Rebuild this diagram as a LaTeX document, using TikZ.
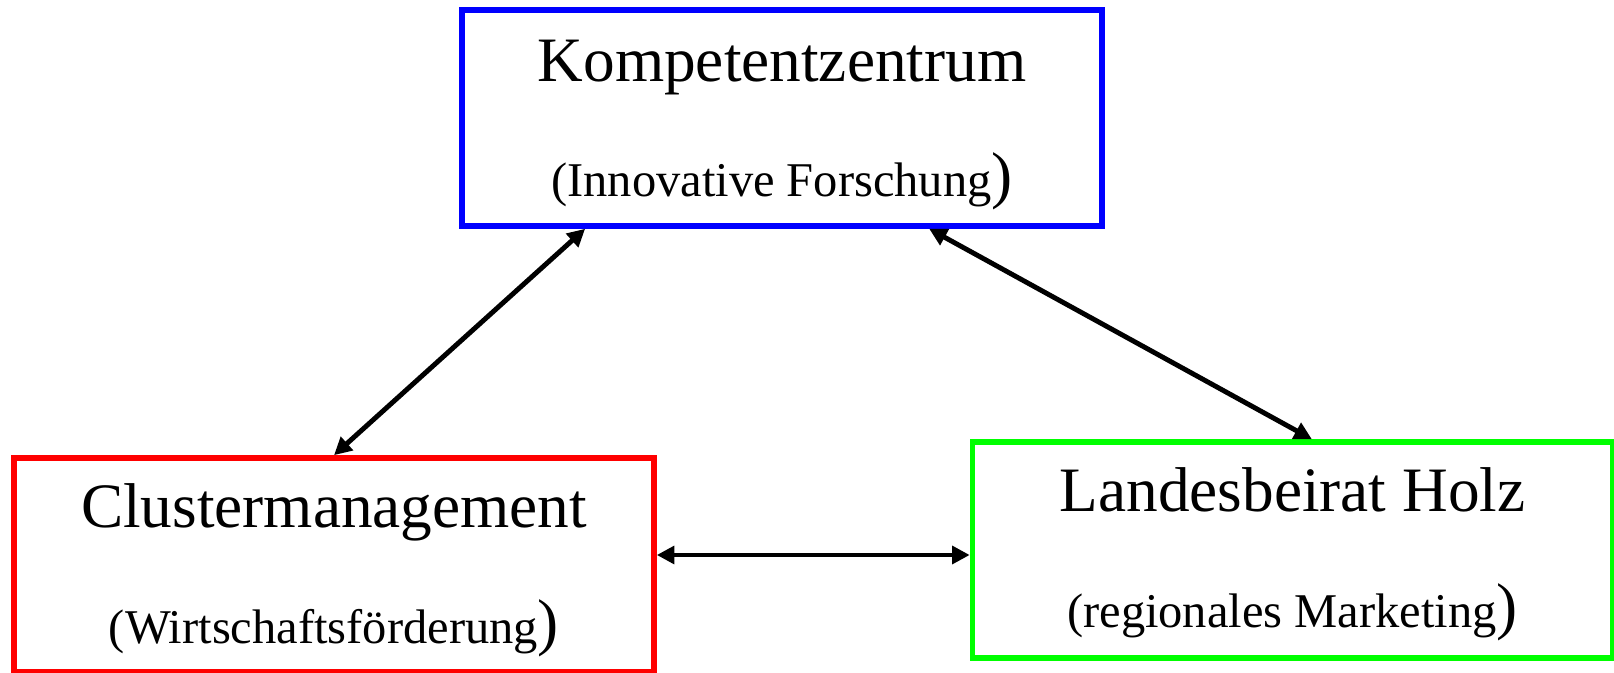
\documentclass[tikz,border=0pt]{standalone}
\usepackage{fontspec}
\setmainfont{Liberation Serif}
\usetikzlibrary{arrows.meta,calc}

\tikzset{
	kasten/.style={draw=#1, line width=1.6pt, rectangle, minimum width=6.4cm, minimum height=2.16cm, inner sep=0pt},
	titel/.style={anchor=base, inner sep=0pt, font=\fontsize{18}{20}\selectfont},
	untertitel/.style={anchor=base, inner sep=0pt, font=\fontsize{13.8}{16}\selectfont},
	pfeil/.style={line width=1.4pt, {Triangle[length=5pt,width=5pt]}-{Triangle[length=5pt,width=5pt]}}
}
\newcommand{\grossklammer}{{\fontsize{18}{18}\selectfont)}}

\begin{document}
\begin{tikzpicture}
		
		% Fix the size of the picture
		\useasboundingbox (0,0) rectangle (16.14,-6.73);
		
		% Draw the three boxes
		\node[kasten=blue] (komp) at (7.82,-1.18) {};
		\node[kasten=red, minimum height=2.14cm] (cluster) at (3.34,-5.65) {};
		\node[kasten=green] (landes) at (12.925,-5.50) {};
		
		% Label the boxes
		\node[titel] (kompT) at ([yshift=-0.74cm]komp.north) {Kompetentzentrum};
		\node[untertitel] (kompU) at ([yshift=-1.89cm]komp.north) {(Innovative Forschung\grossklammer};
		
		\node[titel] (clusterT) at ([yshift=-0.72cm]cluster.north) {Clustermanagement};
		\node[untertitel] (clusterU) at ([yshift=-1.88cm]cluster.north) {(Wirtschaftsförderung\grossklammer};
		
		\node[titel] (landesT) at ([yshift=-0.72cm]landes.north) {Landesbeirat Holz};
		\node[untertitel] (landesU) at ([yshift=-1.88cm]landes.north) {(regionales Marketing\grossklammer};
		
		% Draw the arrows between the boxes
		\draw[pfeil] ($(komp.south west)!0.195!(komp.south east)$) -- (cluster.north);
		\draw[pfeil] ($(komp.south west)!0.728!(komp.south east)$) -- ($(landes.north west)!0.53!(landes.north east)$);
		\draw[pfeil] ([yshift=1mm]cluster.east) -- ([yshift=1mm]cluster.east -| landes.west);
		
	\end{tikzpicture}
\end{document}
